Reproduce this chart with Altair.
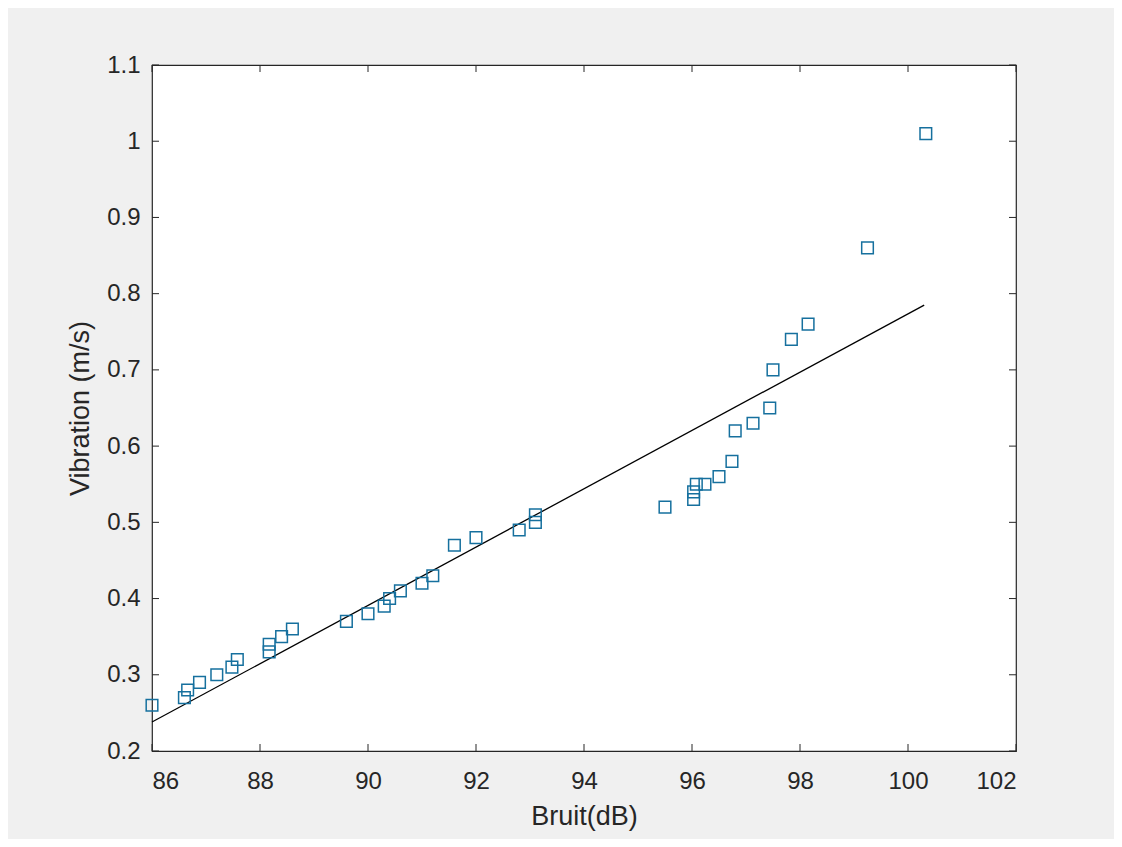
import altair as alt
import pandas as pd

# Data
bruit = [86.0, 86.6, 86.66, 86.88, 87.2, 87.48, 87.58, 88.17, 88.17, 88.4, 88.6,
         89.6, 90.0, 90.3, 90.4, 90.6, 91.0, 91.2, 91.6, 92.0, 92.8, 93.1, 93.1,
         95.5, 96.03, 96.03, 96.08, 96.24, 96.5, 96.74, 96.8, 97.13, 97.44, 97.5,
         97.84, 98.15, 99.25, 100.33]
vibration = [0.26, 0.27, 0.28, 0.29, 0.30, 0.31, 0.32, 0.33, 0.34, 0.35, 0.36,
             0.37, 0.38, 0.39, 0.40, 0.41, 0.42, 0.43, 0.47, 0.48, 0.49, 0.50, 0.51,
             0.52, 0.53, 0.54, 0.55, 0.55, 0.56, 0.58, 0.62, 0.63, 0.65, 0.70,
             0.74, 0.76, 0.86, 1.01]
fit_x = [86.0, 100.3]
fit_y = [0.238, 0.785]
x_ticks = [86, 88, 90, 92, 94, 96, 98, 100, 102]
y_ticks = [0.2, 0.3, 0.4, 0.5, 0.6, 0.7, 0.8, 0.9, 1.0, 1.1]

W, H = 864, 686
TICK = 7
AX = "#262626"
FONT = "Liberation Sans"

pts = pd.DataFrame({"x": bruit, "y": vibration})
fit = pd.DataFrame({"x": fit_x, "y": fit_y})
xt = pd.DataFrame({"x": x_ticks})
yt = pd.DataFrame({"y": y_ticks})

xscale = alt.Scale(domain=[86, 102], nice=False, zero=False)
yscale = alt.Scale(domain=[0.2, 1.1], nice=False, zero=False)

xaxis = alt.Axis(values=x_ticks, grid=False, domain=False, ticks=False,
                 labelFontSize=24, labelColor=AX, labelFont=FONT, labelPadding=18,
                 title="Bruit(dB)", titleFontSize=27, titleFont=FONT, titleColor=AX,
                 titleFontWeight="normal", titlePadding=10)
yaxis = alt.Axis(values=y_ticks, grid=False, domain=False, ticks=False,
                 format=".1~f",
                 labelFontSize=24, labelColor=AX, labelFont=FONT, labelPadding=12,
                 title="Vibration (m/s)", titleFontSize=27, titleFont=FONT,
                 titleColor=AX, titleFontWeight="normal", titlePadding=12)

points = alt.Chart(pts).mark_point(
    shape="square", filled=False, size=135, strokeWidth=1.5, color="#16709e", opacity=1
).encode(
    x=alt.X("x:Q", scale=xscale, axis=xaxis),
    y=alt.Y("y:Q", scale=yscale, axis=yaxis),
)

line = alt.Chart(fit).mark_line(color="black", strokeWidth=1.3).encode(
    x=alt.X("x:Q", scale=xscale),
    y=alt.Y("y:Q", scale=yscale),
)

xb = alt.Chart(xt).mark_rule(color=AX, strokeWidth=1).encode(
    x=alt.X("x:Q", scale=xscale), y=alt.value(H), y2=alt.value(H - TICK))
xtop = alt.Chart(xt).mark_rule(color=AX, strokeWidth=1).encode(
    x=alt.X("x:Q", scale=xscale), y=alt.value(0), y2=alt.value(TICK))
yl = alt.Chart(yt).mark_rule(color=AX, strokeWidth=1).encode(
    y=alt.Y("y:Q", scale=yscale), x=alt.value(0), x2=alt.value(TICK))
yr = alt.Chart(yt).mark_rule(color=AX, strokeWidth=1).encode(
    y=alt.Y("y:Q", scale=yscale), x=alt.value(W), x2=alt.value(W - TICK))

chart = alt.layer(line, points, xb, xtop, yl, yr).properties(
    width=W, height=H,
    autosize=alt.AutoSizeParams(type="none"),
    padding={"left": 144, "top": 57, "right": 98, "bottom": 88},
    background="#f0f0f0",
).configure_view(
    fill="white", stroke=AX, strokeWidth=1.2
)

chart.save("out.html", embed_options={"renderer": "svg", "actions": False})
